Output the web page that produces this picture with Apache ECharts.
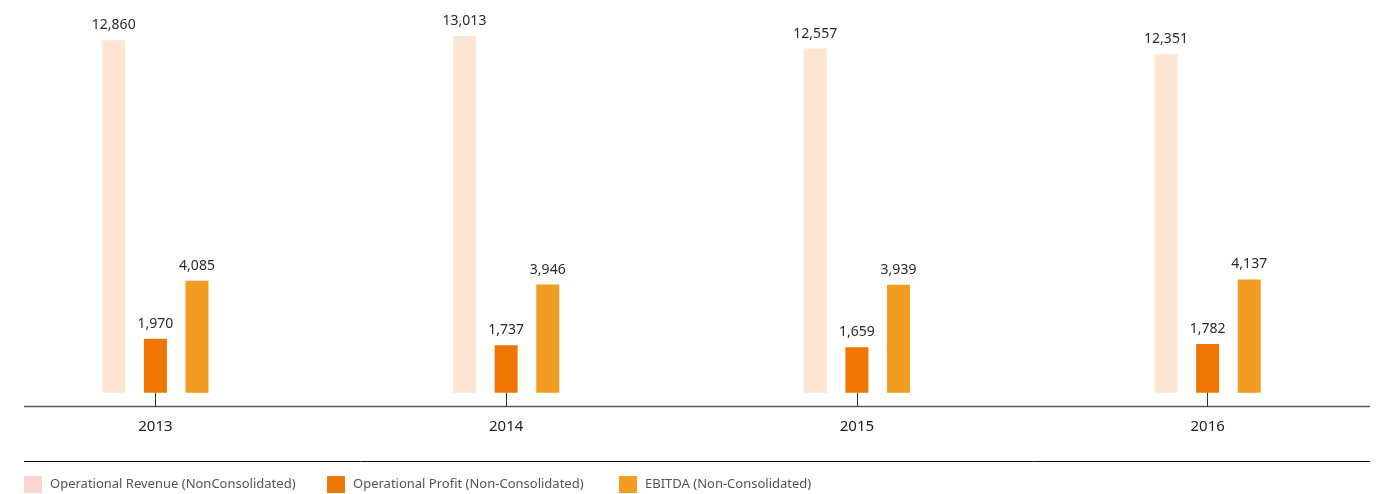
<!DOCTYPE html>
<html>
<head>
<meta charset="utf-8">
<script src="https://cdn.jsdelivr.net/npm/echarts@6/dist/echarts.min.js"></script>
<style>
html, body { margin: 0; padding: 0; background: #fff; }
#chart { width: 1388px; height: 494px; }
</style>
</head>
<body>
<div id="chart"></div>
<script>
const years = ['2013', '2014', '2015', '2016']
const revenue = [12860, 13013, 12557, 12351]
const profit = [1970, 1737, 1659, 1782]
const ebitda = [4085, 3946, 3939, 4137]

const names = [
    'Operational Revenue (NonConsolidated)',
    'Operational Profit (Non-Consolidated)',
    'EBITDA (Non-Consolidated)'
]

const chart = echarts.init(document.getElementById('chart'))

const fmt = (p) => p.value.toLocaleString('en-US')

const barLabel = {
    show: true,
    position: 'top',
    distance: 8,
    color: '#2b2b2b',
    fontSize: 14,
    fontFamily: 'Noto Sans',
    formatter: fmt
}

// one legend per item so each sits where it does in the picture
const legendAt = (name, left, color) => ({
    data: [{ name: name, itemStyle: { color: color } }],
    left: left,
    top: 476,
    padding: 0,
    itemWidth: 18,
    itemHeight: 17,
    icon: 'rect',
    selectedMode: false,
    textStyle: {
        color: '#555',
        fontSize: 13,
        fontFamily: 'Noto Sans',
        padding: [0, 0, 0, 3]
    }
})

const option = {
    animation: false,
    grid: {
        left: -20,
        right: 5,
        top: 9,
        bottom: 87.5,
        outerBoundsMode: 'none'
    },
    legend: [
        legendAt(names[0], 24, '#f9d6cc'),
        legendAt(names[1], 327, '#ee7703'),
        legendAt(names[2], 619, '#f39c22')
    ],
    xAxis: {
        type: 'category',
        data: years,
        axisLine: { show: false, onZero: false },
        axisTick: {
            show: true,
            alignWithLabel: true,
            inside: true,
            length: 14,
            lineStyle: { color: '#333', width: 1 }
        },
        axisLabel: {
            color: '#222',
            fontSize: 15,
            fontFamily: 'Noto Sans',
            margin: 12.5
        },
        splitLine: { show: false }
    },
    yAxis: {
        type: 'value',
        min: -500,
        max: 14000,
        show: false,
        splitLine: { show: false }
    },
    series: [
        {
            name: names[0],
            type: 'bar',
            data: revenue,
            barWidth: 23,
            barGap: '81%',
            itemStyle: { color: '#fde5d2' },
            label: barLabel
        },
        {
            name: names[1],
            type: 'bar',
            data: profit,
            barWidth: 23,
            barGap: '81%',
            itemStyle: { color: '#ee7703' },
            label: barLabel
        },
        {
            name: names[2],
            type: 'bar',
            data: ebitda,
            barWidth: 23,
            barGap: '81%',
            itemStyle: { color: '#f39c22' },
            label: barLabel
        }
    ],
    graphic: [
        {
            type: 'line',
            shape: { x1: 24, y1: 406.5, x2: 1370, y2: 406.5 },
            style: { stroke: '#5a5a5a', lineWidth: 1.5 }
        },
        {
            type: 'line',
            shape: { x1: 24, y1: 461.5, x2: 1370, y2: 461.5 },
            style: { stroke: '#111', lineWidth: 1 }
        }
    ]
}

chart.setOption(option)
</script>
</body>
</html>
